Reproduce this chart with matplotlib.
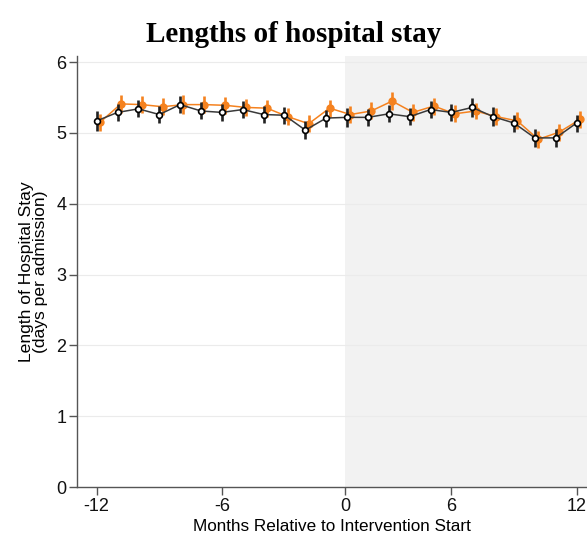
import numpy as np
import matplotlib
matplotlib.use("Agg")
import matplotlib.pyplot as plt

plt.rcParams['font.family'] = ['Liberation Sans', 'DejaVu Sans']

# event-time months (no month 0 -- post period starts at month 1)
months = [-12, -11, -10, -9, -8, -7, -6, -5, -4, -3, -2, -1,
          1, 2, 3, 4, 5, 6, 7, 8, 9, 10, 11, 12]

# mean length of stay, days per admission
los_black = [5.17, 5.29, 5.34, 5.26, 5.40, 5.31, 5.29, 5.33, 5.26, 5.25, 5.04, 5.21,
             5.22, 5.22, 5.27, 5.23, 5.33, 5.29, 5.36, 5.23, 5.14, 4.93, 4.93, 5.14]
los_orange = [5.15, 5.41, 5.40, 5.37, 5.40, 5.40, 5.39, 5.36, 5.35, 5.23, 5.13, 5.35,
              5.26, 5.31, 5.45, 5.29, 5.38, 5.27, 5.31, 5.23, 5.17, 4.91, 5.01, 5.19]

# 95% CI half widths
ci_black = [0.14, 0.12, 0.12, 0.12, 0.12, 0.12, 0.12, 0.12, 0.12, 0.12, 0.13, 0.12,
            0.13, 0.12, 0.12, 0.12, 0.12, 0.12, 0.14, 0.13, 0.12, 0.13, 0.13, 0.12]
ci_orange = [0.12, 0.13, 0.12, 0.12, 0.13, 0.12, 0.12, 0.12, 0.12, 0.12, 0.12, 0.12,
             0.12, 0.12, 0.13, 0.12, 0.12, 0.12, 0.11, 0.12, 0.12, 0.12, 0.12, 0.12]

tick_months = [-12, -6, 0, 6, 12]
ORANGE = '#f5821f'


def month_pos(m):
    # collapse the missing month 0 so pre/post months sit side by side
    return m if m < 0 else m - 1


x = np.array([month_pos(m) for m in months], dtype=float)
tick_pos = [month_pos(m) if m != 0 else -0.1 for m in tick_months]

fig = plt.figure(figsize=(5.87, 5.5), dpi=100)
ax = fig.add_axes([0.132, 0.1145, 0.868, 0.7835])

ax.axvspan(-0.1, 13, color='#f2f2f2', zorder=0, lw=0)
for yv in range(1, 7):
    ax.axhline(yv, color='#ebebeb', lw=0.8, zorder=0.5)

ax.errorbar(x + 0.16, los_orange, yerr=ci_orange, color=ORANGE, lw=1.1,
            elinewidth=1.9, capsize=0, marker='o', ms=5, mfc=ORANGE, mec=ORANGE,
            zorder=3)
ax.errorbar(x, los_black, yerr=ci_black, color='#3a3a3a', lw=1.1,
            elinewidth=1.9, ecolor='#222222', capsize=0, marker='o', ms=4.2,
            mfc='white', mec='black', mew=1.2, zorder=4)

ax.set_xlim(-12.92, 11.5)
ax.set_ylim(0, 6.085)
ax.set_xticks(tick_pos)
ax.set_xticklabels([str(m) for m in tick_months])
ax.set_yticks(range(0, 7))

for side in ['top', 'right']:
    ax.spines[side].set_visible(False)
for side in ['left', 'bottom']:
    ax.spines[side].set_color('#555555')
    ax.spines[side].set_linewidth(1.0)
ax.tick_params(axis='both', labelsize=13, color='#555555', length=6, width=1.0,
               labelcolor='#111111', pad=2)

ax.set_xlabel('Months Relative to Intervention Start', fontsize=12.3, labelpad=3)
ax.set_ylabel('Length of Hospital Stay\n(days per admission)', fontsize=12.6,
              labelpad=6, linespacing=0.95)

fig.suptitle('Lengths of hospital stay', x=0.5, y=0.962, fontsize=21,
             fontweight='bold', family='Liberation Serif')

fig.savefig('out.png', dpi=100)
